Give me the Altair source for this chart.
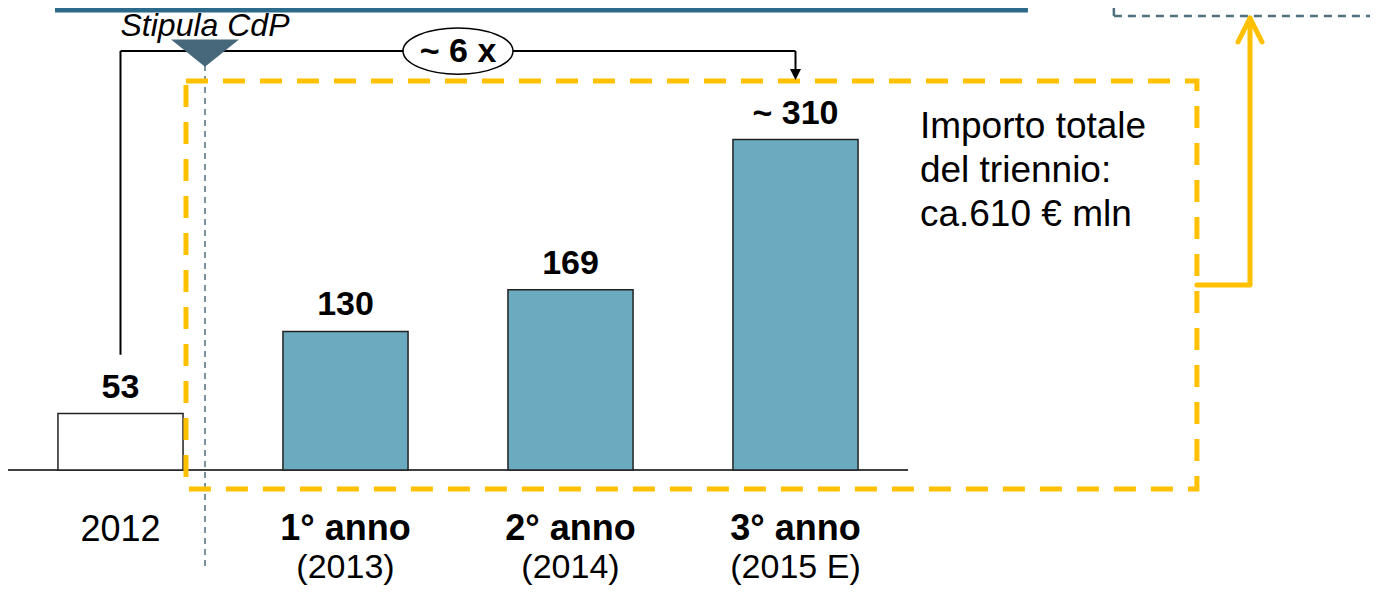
import altair as alt
import pandas as pd

# ---------------- data ----------------
categories = ["2012", "1° anno", "2° anno", "3° anno"]
years = ["", "(2013)", "(2014)", "(2015 E)"]
values = [53, 130, 169, 310]
value_labels = ["53", "130", "169", "~ 310"]
note_lines = ["Importo totale", "del triennio:", "ca.610 € mln"]
growth_label = "~ 6 x"
milestone_label = "Stipula CdP"

# ---------------- layout ----------------
W, H = 1362, 577
PX_PER_SLOT = 225.0
PX_PER_UNIT = 1.066
BASE_PX = 462.0
XDOM = [-0.5, -0.5 + W / PX_PER_SLOT]
YDOM = [-(H - BASE_PX) / PX_PER_UNIT, BASE_PX / PX_PER_UNIT]
FONT = "Liberation Sans"
ORANGE = "#FFC000"
SLATE = "#4F6F7E"


def X(f):
    return alt.X(f"{f}:Q", scale=alt.Scale(domain=XDOM, nice=False, zero=False), axis=None)


def Y(f):
    return alt.Y(f"{f}:Q", scale=alt.Scale(domain=YDOM, nice=False, zero=False), axis=None)


half = 0.278
bars_df = pd.DataFrame({
    "idx": list(range(len(categories))),
    "cat": categories,
    "year": years,
    "val": values,
    "label": value_labels,
})
bars_df["x1"] = bars_df["idx"] - half
bars_df["x2"] = bars_df["idx"] + half
bars_df["y0"] = 0

base = alt.Chart(bars_df)

bars = base.mark_rect(stroke="#222222", strokeWidth=1.5).encode(
    x=X("x1"), x2="x2", y=Y("y0"), y2="val",
    fill=alt.condition(alt.datum.idx == 0, alt.value("white"), alt.value("#6BAABF")),
)

val_text = base.mark_text(dy=-16, baseline="alphabetic", fontSize=34, fontWeight="bold",
                          font=FONT, color="black").encode(
    x=X("idx"), y=Y("val"), text="label")

cat_bold = base.transform_filter(alt.datum.idx > 0).mark_text(
    dy=70, baseline="alphabetic", fontSize=36, fontWeight="bold", font=FONT, color="black"
).encode(x=X("idx"), y=Y("y0"), text="cat")
cat_plain = base.transform_filter(alt.datum.idx == 0).mark_text(
    dy=71, baseline="alphabetic", fontSize=36, font=FONT, color="black"
).encode(x=X("idx"), y=Y("y0"), text="cat")
year_text = base.mark_text(
    dy=108, baseline="alphabetic", fontSize=34, font=FONT, color="black"
).encode(x=X("idx"), y=Y("y0"), text="year")

# baseline axis line
baseline = alt.Chart(pd.DataFrame({"x": [XDOM[0]], "x2": [3.5], "y": [0]})).mark_rule(
    color="black", strokeWidth=1.5).encode(x=X("x"), x2="x2", y=Y("y"))

# top decorative band
top_band = alt.Chart(pd.DataFrame({"x": [-0.291], "x2": [4.033], "y": [431.5]})).mark_rule(
    color="#2B6A8A", strokeWidth=5).encode(x=X("x"), x2="x2", y=Y("y"))

# milestone: dashed vertical + triangle + label
ms_x = 0.3756
ms_line = alt.Chart(pd.DataFrame({"x": [ms_x], "y": [380.0], "y2": [-92.0]})).mark_rule(
    color=SLATE, strokeWidth=1.5, strokeDash=[6, 5]).encode(x=X("x"), y=Y("y"), y2="y2")
ms_tri = alt.Chart(pd.DataFrame({"x": [ms_x], "y": [391.0]})).mark_point(
    shape="M-1,-0.4L1,-0.4L0,0.4Z", size=68 * 68, filled=True, opacity=1,
    color="#46687A").encode(x=X("x"), y=Y("y"))
ms_text = alt.Chart(pd.DataFrame({"x": [ms_x], "y": [(470 - 36) / PX_PER_UNIT], "t": [milestone_label]})).mark_text(
    baseline="alphabetic", fontSize=32, fontStyle="italic", font=FONT, color="black").encode(
    x=X("x"), y=Y("y"), text="t")

# growth connector
y_top = 393.0
conn_df = pd.DataFrame({
    "x": [0.0, 0.0, 3.0],
    "x2": [0.0, 3.0, 3.0],
    "y": [108.0, y_top, y_top],
    "y2": [y_top, y_top, 372.0],
})
connector = alt.Chart(conn_df).mark_rule(color="black", strokeWidth=2).encode(
    x=X("x"), x2="x2", y=Y("y"), y2="y2")
arrow_head = alt.Chart(pd.DataFrame({"x": [3.0], "y": [371.0]})).mark_point(
    shape="M-1,-1L1,-1L0,1Z", size=121, filled=True, opacity=1, color="black").encode(
    x=X("x"), y=Y("y"))

k = 0.5523
ry = 0.42
ellipse_path = (
    f"M-1,0C-1,{-k*ry:.4f},{-k:.4f},{-ry},0,{-ry}"
    f"C{k:.4f},{-ry},1,{-k*ry:.4f},1,0"
    f"C1,{k*ry:.4f},{k:.4f},{ry},0,{ry}"
    f"C{-k:.4f},{ry},-1,{k*ry:.4f},-1,0Z"
)
ell_df = pd.DataFrame({"x": [1.5], "y": [y_top], "t": [growth_label]})
ellipse = alt.Chart(ell_df).mark_point(
    shape=ellipse_path, size=110 * 110, filled=True, fill="white", stroke="black",
    strokeWidth=1.5, opacity=1).encode(x=X("x"), y=Y("y"))
ell_text = alt.Chart(ell_df).mark_text(
    baseline="middle", fontSize=34, fontWeight="bold", font=FONT, color="black", dy=1).encode(
    x=X("x"), y=Y("y"), text="t")

# orange dashed box
box = alt.Chart(pd.DataFrame({"x": [0.291], "x2": [4.784], "y": [-17.8], "y2": [365.0]})).mark_rect(
    fillOpacity=0, stroke=ORANGE, strokeWidth=5, strokeDash=[22, 15]).encode(
    x=X("x"), x2="x2", y=Y("y"), y2="y2")

note = alt.Chart(pd.DataFrame({"x": [3.553], "y": [(470 - 138) / PX_PER_UNIT], "t": [note_lines]})).mark_text(
    align="left", baseline="alphabetic", fontSize=37, lineHeight=44, font=FONT, color="black").encode(
    x=X("x"), y=Y("y"), text="t")

# orange arrow to the top-right
oa_df = pd.DataFrame({
    "seg": [0, 0, 0, 1, 1, 1],
    "o": [0, 1, 2, 0, 1, 2],
    "x": [4.784, 5.02, 5.02, 5.02 - 0.0533, 5.02, 5.02 + 0.0533],
    "y": [173.5, 173.5, 424.0, 401.5, 424.0, 401.5],
})
orange_arrow = alt.Chart(oa_df).mark_line(
    color=ORANGE, strokeWidth=5, strokeCap="round", strokeJoin="round").encode(
    x=X("x"), y=Y("y"), detail="seg:N", order="o:Q")

# grey dashed box (top right)
gb_df = pd.DataFrame({
    "x": [4.415, 4.415],
    "x2": [4.415, XDOM[1]],
    "y": [YDOM[1], 426.0],
    "y2": [426.0, 426.0],
})
grey_box = alt.Chart(gb_df).mark_rule(color=SLATE, strokeWidth=2.5, strokeDash=[8, 6]).encode(
    x=X("x"), x2="x2", y=Y("y"), y2="y2")

chart = alt.layer(
    top_band, grey_box, baseline, bars, ms_line, box, connector, arrow_head,
    ellipse, ell_text, ms_tri, ms_text, val_text, cat_bold, cat_plain, year_text,
    note, orange_arrow,
).properties(
    width=W, height=H, padding=0,
    autosize=alt.AutoSizeParams(type="none"),
    background="white",
).configure_view(strokeWidth=0)

chart.save("out.html", embed_options={"renderer": "svg", "actions": False})
